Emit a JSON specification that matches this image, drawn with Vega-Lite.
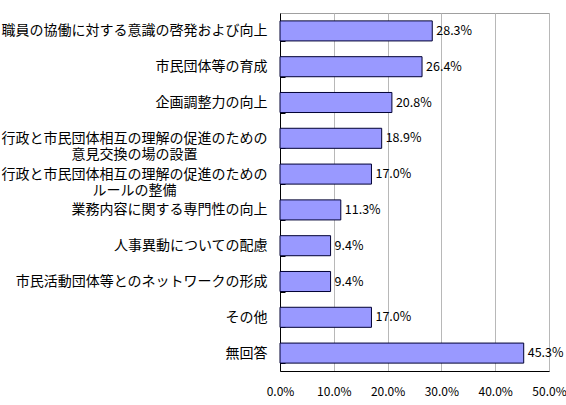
{
  "$schema": "https://vega.github.io/schema/vega-lite/v6.json",
  "width": 269,
  "height": 358,
  "autosize": "none",
  "padding": {"left": 280, "top": 13, "right": 17, "bottom": 34},
  "background": "white",
  "data": {
    "values": [
      {"item": "職員の協働に対する意識の啓発および向上", "pct": 0.283},
      {"item": "市民団体等の育成", "pct": 0.264},
      {"item": "企画調整力の向上", "pct": 0.208},
      {"item": "行政と市民団体相互の理解の促進のための|意見交換の場の設置", "pct": 0.189},
      {"item": "行政と市民団体相互の理解の促進のための|ルールの整備", "pct": 0.17},
      {"item": "業務内容に関する専門性の向上", "pct": 0.113},
      {"item": "人事異動についての配慮", "pct": 0.094},
      {"item": "市民活動団体等とのネットワークの形成", "pct": 0.094},
      {"item": "その他", "pct": 0.17},
      {"item": "無回答", "pct": 0.453}
    ]
  },
  "config": {
    "view": {"stroke": "#a0a0a0", "strokeWidth": 1},
    "font": "Noto Sans CJK JP"
  },
  "encoding": {
    "y": {
      "field": "item",
      "type": "nominal",
      "sort": null,
      "title": null,
      "scale": {"paddingInner": 0.44, "paddingOuter": 0.22},
      "axis": {
        "domainColor": "#000000",
        "tickColor": "#000000",
        "tickSize": -5,
        "tickBand": "extent",
        "labelPadding": 18,
        "labelFont": "Noto Sans CJK JP",
        "labelFontSize": 14,
        "labelColor": "#000000",
        "labelLineHeight": 16,
        "labelLimit": 400,
        "labelExpr": "indexof(datum.label, '|') >= 0 ? [split(datum.label, '|')[0], split(datum.label, '|')[1] + pad('', floor((19 - length(split(datum.label, '|')[1])) / 2), '\u3000') + ((19 - length(split(datum.label, '|')[1])) % 2 ? '\u2002' : '') + '\u2060'] : datum.label"
      }
    },
    "x": {
      "field": "pct",
      "type": "quantitative",
      "title": null,
      "scale": {"domain": [0, 0.5], "nice": false},
      "axis": {
        "values": [0, 0.1, 0.2, 0.3, 0.4, 0.5],
        "format": ".1%",
        "domainColor": "#000000",
        "ticks": false,
        "labelPadding": 15,
        "labelFont": "Noto Sans CJK JP",
        "labelFontSize": 12,
        "labelColor": "#000000",
        "grid": true,
        "gridColor": "#b8b8b8",
        "labelFlush": false
      }
    }
  },
  "layer": [
    {
      "mark": {"type": "bar", "fill": "#9999ff", "stroke": "#000033", "strokeWidth": 1}
    },
    {
      "mark": {"type": "text", "align": "left", "baseline": "middle", "dx": 4, "fontSize": 12.5, "color": "#000000", "font": "Noto Sans CJK JP"},
      "encoding": {"text": {"field": "pct", "type": "quantitative", "format": ".1%"}}
    }
  ]
}
